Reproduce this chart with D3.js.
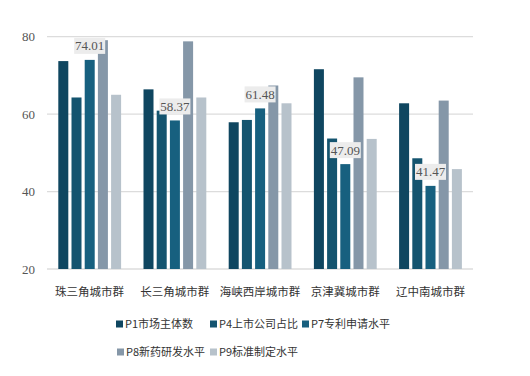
<!DOCTYPE html>
<html><head><meta charset="utf-8">
<script src="https://cdn.jsdelivr.net/npm/d3@7/dist/d3.min.js"></script>
<style>body{margin:0;background:#fff}svg{display:block}</style>
</head><body>
<svg id="c" width="530" height="376"></svg>
<script>
const categories = ["珠三角城市群","长三角城市群","海峡西岸城市群","京津冀城市群","辽中南城市群"];
const seriesNames = ["P1市场主体数","P4上市公司占比","P7专利申请水平","P8新药研发水平","P9标准制定水平"];
const P1 = [73.7, 66.4, 57.9, 71.6, 62.8];
const P4 = [64.3, 60.9, 58.5, 53.7, 48.6];
const P7 = [74.01, 58.37, 61.48, 47.09, 41.47];
const P8 = [79.1, 78.8, 67.4, 69.5, 63.5];
const P9 = [65.0, 64.3, 62.8, 53.6, 45.8];
const yTicks = [20, 40, 60, 80];
const colors = ["#0f4660","#14546f","#17607f","#8597a8","#b7c2cb"];
const series = [P1, P4, P7, P8, P9];
const labelSeries = 2;

const svg = d3.select("#c");
const x0 = d3.scaleBand().domain(categories).range([47, 473]).padding(0);
const x1 = d3.scaleBand().domain(d3.range(series.length)).range([11.3, 74.1]).paddingInner(0.242).paddingOuter(0);
const y = d3.scaleLinear().domain([20, 80]).range([269, 36.7]);

// gridlines
svg.append("g").selectAll("line").data(yTicks).join("line")
  .attr("x1", 47).attr("x2", 473)
  .attr("y1", d => y(d)).attr("y2", d => y(d))
  .attr("stroke", "#dcdcdc").attr("stroke-width", 1.3);
svg.append("g").selectAll("text").data(yTicks).join("text")
  .attr("x", 35).attr("y", d => y(d)).attr("dy", "0.35em")
  .attr("text-anchor", "end")
  .attr("font-family", "Liberation Serif, serif").attr("font-size", 13)
  .attr("fill", "#555").text(d => d);

// bars
const g = svg.append("g");
categories.forEach((c, ci) => {
  series.forEach((s, si) => {
    g.append("rect")
      .attr("x", x0(c) + x1(si)).attr("width", x1.bandwidth())
      .attr("y", y(s[ci])).attr("height", y(20) - y(s[ci]))
      .attr("fill", colors[si]);
  });
});

// labels
const lg = svg.append("g");
categories.forEach((c, ci) => {
  const v = series[labelSeries][ci];
  const cx = x0(c) + x1(labelSeries) + x1.bandwidth() / 2;
  const bw = 31, bh = 16;
  const by = y(v) - 6 - bh;
  lg.append("rect").attr("x", cx - bw / 2).attr("y", by).attr("width", bw).attr("height", bh)
    .attr("fill", "#ececec");
  lg.append("text").attr("x", cx).attr("y", by + bh / 2).attr("dy", "0.35em")
    .attr("text-anchor", "middle")
    .attr("font-family", "Liberation Serif, serif").attr("font-size", 13)
    .attr("fill", "#555").text(v.toFixed(2));
});

// x labels
svg.append("g").selectAll("text").data(categories).join("text")
  .attr("x", d => x0(d) + x0.bandwidth() / 2).attr("y", 292).attr("dy", "0.35em")
  .attr("text-anchor", "middle")
  .attr("font-family", "Noto Sans CJK SC, sans-serif").attr("font-size", 11.5)
  .attr("fill", "#333").text(d => d);

// legend
const legendPos = [[116, 324], [210, 324], [302, 324], [117, 352], [210, 352]];
const leg = svg.append("g");
seriesNames.forEach((n, i) => {
  const [lx, ly] = legendPos[i];
  leg.append("rect").attr("x", lx).attr("y", ly - 3.5).attr("width", 7).attr("height", 7).attr("fill", colors[i]);
  leg.append("text").attr("x", lx + 9).attr("y", ly).attr("dy", "0.35em")
    .attr("font-family", "Noto Sans CJK SC, sans-serif").attr("font-size", 11)
    .attr("fill", "#333").text(n);
});
</script>
</body></html>
